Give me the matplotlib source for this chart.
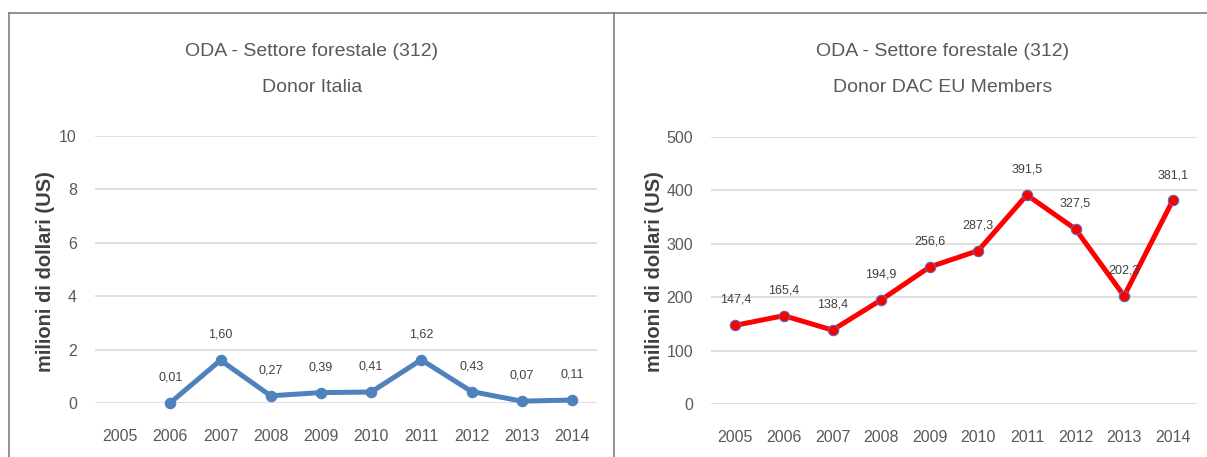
import matplotlib
matplotlib.use("Agg")
import matplotlib.pyplot as plt
from matplotlib.lines import Line2D

plt.rcParams['font.family'] = ['Liberation Sans', 'DejaVu Sans']

years = ['2005', '2006', '2007', '2008', '2009', '2010', '2011', '2012', '2013', '2014']
italia = [None, 0.01, 1.60, 0.27, 0.39, 0.41, 1.62, 0.43, 0.07, 0.11]
dac_eu = [147.4, 165.4, 138.4, 194.9, 256.6, 287.3, 391.5, 327.5, 202.3, 381.1]

title_top = 'ODA - Settore forestale (312)'
title_left = 'Donor Italia'
title_right = 'Donor DAC EU Members'
ylabel = 'milioni di dollari (US)'

TEXT = '#595959'
LABEL = '#404040'
GRID = '#d9d9d9'

fig = plt.figure(figsize=(12.07, 4.57), dpi=100)


def panel(rect, values, ymax, step, color, mec, decimals, title2, title_x, ylabel_x):
    ax = fig.add_axes(rect)
    xs = [i for i, v in enumerate(values) if v is not None]
    ys = [v for v in values if v is not None]
    ax.plot(xs, ys, color=color, lw=3.6, marker='o', ms=7.5,
            mfc=color, mec=mec, mew=0.8, clip_on=False, zorder=3)
    for x, y in zip(xs, ys):
        txt = f'{y:.{decimals}f}'.replace('.', ',')
        ax.annotate(txt, (x, y), xytext=(0, 14), textcoords='offset points',
                    ha='center', va='bottom', fontsize=9, color=LABEL)
    ax.set_xlim(-0.5, len(years) - 0.5)
    ax.set_ylim(0, ymax)
    ax.set_xticks(range(len(years)))
    ax.set_xticklabels(years)
    ax.set_yticks(range(0, ymax + 1, step))
    ax.tick_params(length=0, labelsize=11.5, colors=TEXT)
    ax.tick_params(axis='x', pad=19)
    ax.tick_params(axis='y', pad=13)
    ax.grid(axis='y', color=GRID, lw=1.2)
    ax.set_axisbelow(True)
    for s in ax.spines.values():
        s.set_visible(False)
    fig.text(title_x, 1 - 52 / 457, title_top, ha='center', va='center',
             fontsize=14, color=TEXT)
    fig.text(title_x, 1 - 88 / 457, title2, ha='center', va='center',
             fontsize=14, color=TEXT)
    fig.text(ylabel_x, 1 - 272 / 457, ylabel, rotation=90, ha='center', va='center',
             fontsize=14.5, fontweight='bold', color=LABEL)
    return ax


panel([95 / 1207, 1 - 403 / 457, 502 / 1207, 267 / 457], italia, 10, 2,
      '#4f81bd', '#4f81bd', 2, title_left, 312 / 1207, 46 / 1207)
panel([711 / 1207, 1 - 404 / 457, 486 / 1207, 267 / 457], dac_eu, 500, 100,
      '#ff0000', '#4f6fbd', 1, title_right, 943 / 1207, 654 / 1207)

# panel frames
border = dict(color='#7f7f7f', lw=1.2, transform=fig.transFigure)
fig.add_artist(Line2D([9 / 1207, 1], [1 - 13 / 457] * 2, **border))
fig.add_artist(Line2D([9 / 1207] * 2, [0, 1 - 13 / 457], **border))
fig.add_artist(Line2D([614 / 1207] * 2, [0, 1 - 13 / 457], **border))

fig.savefig('out.png', dpi=100)
